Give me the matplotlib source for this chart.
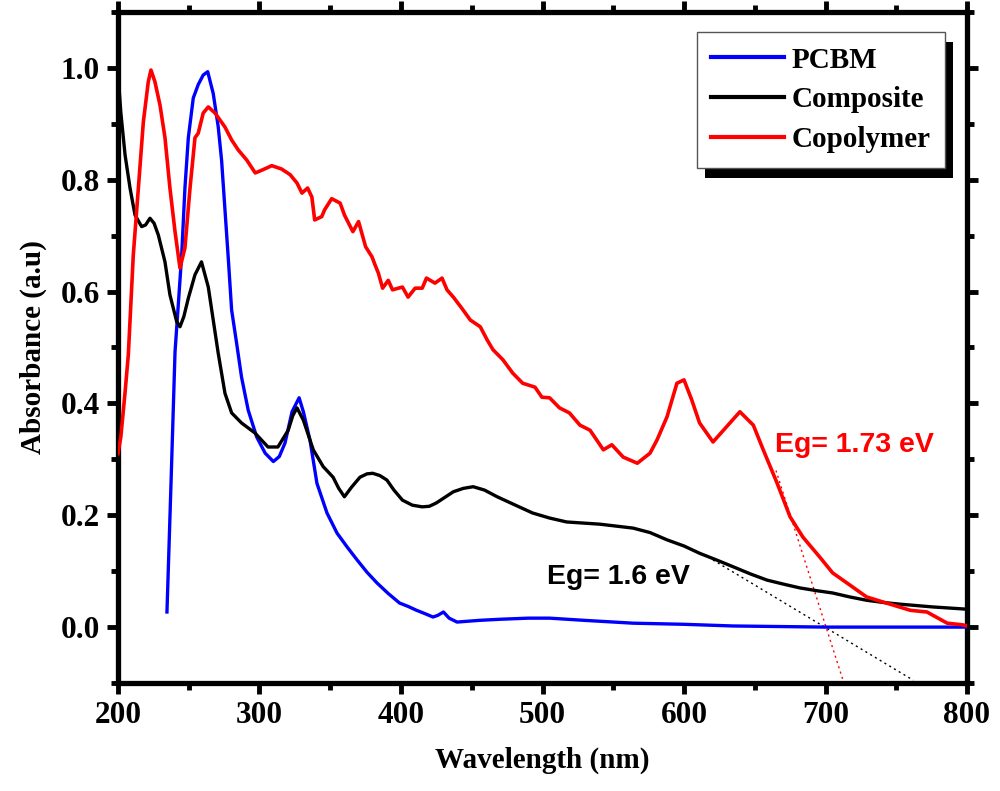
import matplotlib
matplotlib.use('Agg')
import matplotlib.pyplot as plt
from matplotlib.patches import Rectangle
from matplotlib.ticker import MultipleLocator

# PCBM (blue)
wl_pcbm = [234.6, 237.5, 240.3, 242.6, 245, 247.3, 249.7, 253.2, 256.7, 260.2, 263.4,
           267.3, 270.8, 273.2, 275.6, 278, 280.3, 283.8, 287.3, 292, 298, 304, 309.8,
           314, 318, 323, 328, 331, 335.7, 340.6, 347.7, 354.8, 362, 369, 376, 383, 391,
           399, 405, 411, 417, 422.6, 426, 430, 434, 439.6, 455, 470, 490, 505, 530, 564,
           600, 634.6, 700, 800]
abs_pcbm = [0.027, 0.26, 0.492, 0.576, 0.665, 0.785, 0.875, 0.946, 0.97, 0.987, 0.993,
            0.954, 0.895, 0.835, 0.746, 0.657, 0.567, 0.508, 0.447, 0.388, 0.34, 0.311,
            0.296, 0.305, 0.329, 0.385, 0.41, 0.385, 0.334, 0.257, 0.204, 0.168, 0.143,
            0.12, 0.098, 0.079, 0.06, 0.043, 0.037, 0.03, 0.024, 0.018, 0.021, 0.027,
            0.016, 0.009, 0.012, 0.014, 0.016, 0.016, 0.012, 0.007, 0.005, 0.002, 0.0, 0.0]

# Composite (black)
wl_comp = [200, 202, 205, 208.5, 212, 216.7, 219.5, 222.6, 225.5, 228.5, 233.2, 236.7,
           241.5, 243.8, 246.5, 249.7, 254.4, 259, 263.8, 267.3, 270.8, 275.6, 280.3,
           287.3, 296.8, 306, 313, 320.3, 323.5, 326.5, 331, 338, 345, 352, 356, 360, 365,
           371, 376, 380, 385, 390, 395, 401, 408, 415, 420, 425, 431, 437, 444, 451,
           459, 468, 480, 493, 505, 517, 540.6, 564, 576, 588, 600, 611, 623, 634.6, 647,
           658.7, 670, 682, 694, 705, 717, 729, 741, 752.6, 776, 800]
abs_comp = [0.99, 0.92, 0.844, 0.785, 0.737, 0.716, 0.719, 0.731, 0.722, 0.701, 0.653,
            0.594, 0.546, 0.537, 0.555, 0.588, 0.63, 0.653, 0.608, 0.549, 0.49, 0.418,
            0.383, 0.365, 0.347, 0.322, 0.322, 0.352, 0.378, 0.392, 0.37, 0.317, 0.287,
            0.268, 0.248, 0.233, 0.25, 0.268, 0.274, 0.275, 0.271, 0.263, 0.245, 0.227,
            0.218, 0.215, 0.216, 0.222, 0.232, 0.242, 0.248, 0.251, 0.245, 0.233, 0.219,
            0.204, 0.195, 0.188, 0.184, 0.177, 0.169, 0.156, 0.145, 0.132, 0.12, 0.108,
            0.095, 0.084, 0.077, 0.07, 0.065, 0.061, 0.054, 0.048, 0.044, 0.041, 0.036,
            0.032]

# Copolymer (red)
wl_copo = [200, 202, 205, 207.3, 210.8, 214.4, 217.9, 221.4, 223.3, 226.1, 229.7, 233.2,
           236.7, 240.3, 243.8, 247.3, 250.9, 254.4, 256.7, 260.2, 263.8, 268.6, 275.6,
           280.3, 285, 291, 297, 301.7, 308.7, 315.6, 321.6, 326.5, 330, 334, 337, 339,
           344, 346, 351, 357, 360, 366, 370, 375, 379.5, 381.6, 384, 387, 391, 394, 401,
           405, 410, 415, 418, 424, 429, 432.5, 437, 443, 449, 456, 461, 465, 472, 479,
           486, 494.7, 499.6, 505, 512, 519, 526.5, 533.6, 543, 549, 557, 567, 576, 581,
           588, 595, 600, 605.5, 611, 620.5, 630, 639.5, 649, 656, 665.7, 675, 684, 696,
           705, 719, 729, 743, 760, 771.7, 786, 797, 800]
abs_copo = [0.31, 0.34, 0.42, 0.487, 0.665, 0.785, 0.903, 0.975, 0.996, 0.975, 0.933,
            0.875, 0.785, 0.707, 0.642, 0.678, 0.785, 0.875, 0.883, 0.919, 0.93, 0.919,
            0.894, 0.871, 0.853, 0.835, 0.812, 0.817, 0.825, 0.819, 0.809, 0.794, 0.776,
            0.785, 0.769, 0.728, 0.734, 0.746, 0.766, 0.758, 0.737, 0.707, 0.725, 0.68,
            0.662, 0.648, 0.633, 0.606, 0.62, 0.603, 0.608, 0.59, 0.606, 0.606, 0.624,
            0.615, 0.624, 0.603, 0.59, 0.57, 0.549, 0.537, 0.513, 0.496, 0.478, 0.454,
            0.436, 0.429, 0.411, 0.41, 0.392, 0.383, 0.361, 0.352, 0.317, 0.326, 0.304,
            0.293, 0.311, 0.335, 0.376, 0.436, 0.442, 0.406, 0.365, 0.331, 0.358, 0.385,
            0.361, 0.317, 0.258, 0.197, 0.161, 0.125, 0.097, 0.072, 0.054, 0.043, 0.030,
            0.027, 0.007, 0.004, 0.002]

# tangent (band-edge) extrapolation lines
tan_red_x = [665, 713]
tan_red_y = [0.28, -0.10]
tan_blk_x = [620.5, 762]
tan_blk_y = [0.12, -0.095]

plt.rcParams['font.family'] = ['Liberation Serif', 'DejaVu Serif']
plt.rcParams['font.weight'] = 'bold'

fig = plt.figure(figsize=(10, 7.91), dpi=100)
ax = fig.add_axes([0.118, 0.1365, 0.849, 0.8485])

ax.plot(wl_pcbm, abs_pcbm, color='#0000ff', lw=2.4, label='PCBM', zorder=3,
        solid_joinstyle='round')
ax.plot(wl_comp, abs_comp, color='black', lw=2.4, label='Composite', zorder=3,
        solid_joinstyle='round')
ax.plot(wl_copo, abs_copo, color='#ff0000', lw=2.6, label='Copolymer', zorder=3,
        solid_joinstyle='round')
ax.plot(tan_red_x, tan_red_y, color='#ff0000', lw=1.0, ls=(0, (1.5, 2.5)), zorder=2)
ax.plot(tan_blk_x, tan_blk_y, color='black', lw=1.0, ls=(0, (1.5, 2.5)), zorder=2)

ax.text(664, 0.326, 'Eg= 1.73 eV', color='#ff0000', fontsize=20.5, fontweight='bold',
        family='Liberation Sans', va='center', ha='left')
ax.text(503, 0.089, 'Eg= 1.6 eV', color='black', fontsize=20.5, fontweight='bold',
        family='Liberation Sans', va='center', ha='left')

ax.set_xlim(200, 800)
ax.set_ylim(-0.1, 1.1)
ax.xaxis.set_major_locator(MultipleLocator(100))
ax.xaxis.set_minor_locator(MultipleLocator(50))
ax.set_yticks([0.0, 0.2, 0.4, 0.6, 0.8, 1.0])
ax.yaxis.set_minor_locator(MultipleLocator(0.1))

for s in ax.spines.values():
    s.set_linewidth(3.8)
ax.tick_params(which='both', direction='out', width=3.5, top=True, right=True,
               labelsize=22.5, pad=5)
ax.tick_params(which='major', length=8)
ax.tick_params(which='minor', length=5)
for lab in ax.get_xticklabels() + ax.get_yticklabels():
    lab.set_fontweight('bold')

ax.set_xlabel('Wavelength (nm)', fontsize=21, fontweight='bold', labelpad=12)
ax.set_ylabel('Absorbance (a.u)', fontsize=21, fontweight='bold', labelpad=10)

leg = ax.legend(loc='upper right', bbox_to_anchor=(0.974, 0.970), borderaxespad=0,
                fontsize=21, handlelength=2.5, handletextpad=0.25, labelspacing=0.44,
                borderpad=0.5, fancybox=False, framealpha=1, edgecolor='#555555')
leg.get_frame().set_linewidth(1.0)
for t in leg.get_texts():
    t.set_fontweight('bold')
for h in leg.get_lines():
    h.set_linewidth(3.0)

fig.canvas.draw()
bb = leg.get_window_extent().transformed(fig.transFigure.inverted())
dx, dy = 8 / 1000, 10 / 791
ax.add_patch(Rectangle((bb.x0 + dx, bb.y0 - dy), bb.width, bb.height,
                       transform=fig.transFigure, facecolor='black', edgecolor='none',
                       zorder=4.9, clip_on=False))

fig.savefig('out.png', dpi=100)
